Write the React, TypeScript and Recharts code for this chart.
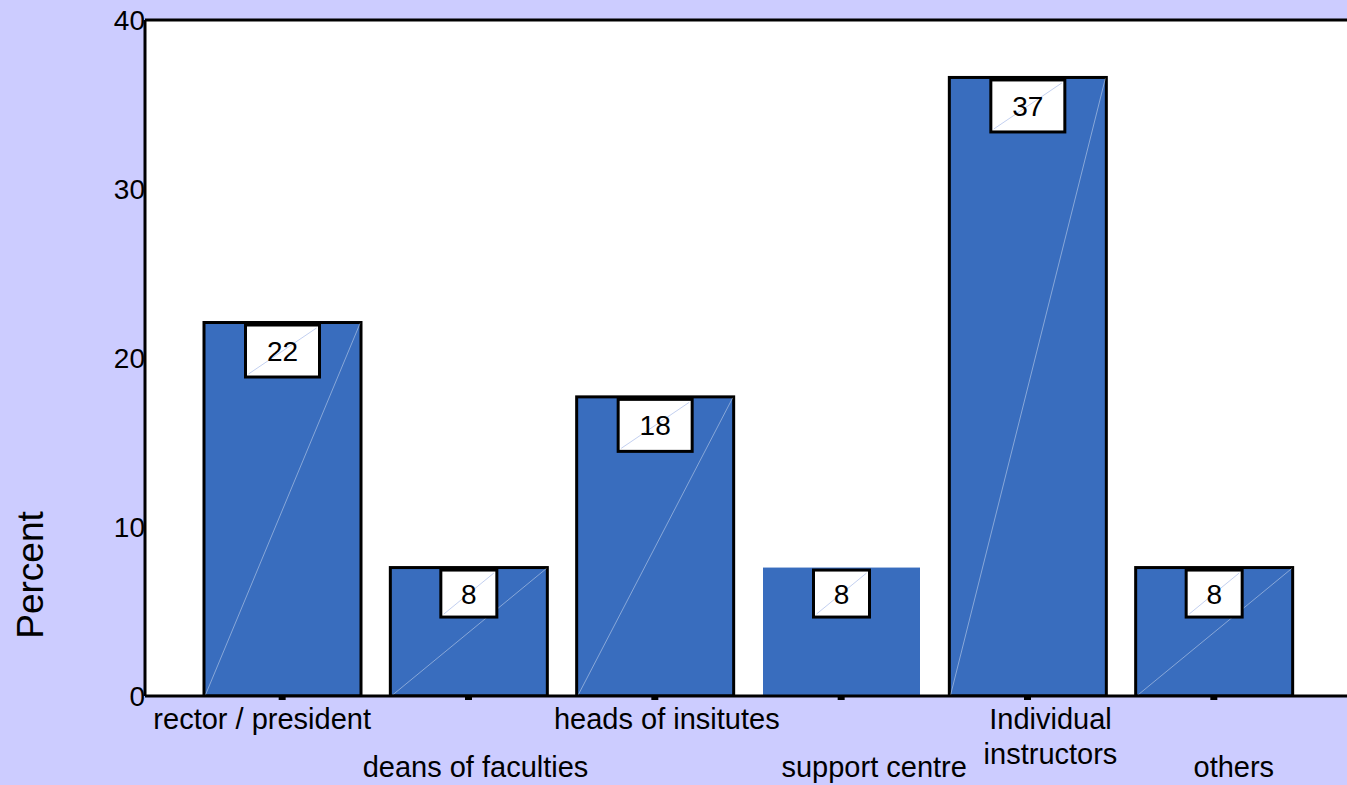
import { Bar, BarChart, CartesianGrid, LabelList, ReferenceLine, XAxis, YAxis } from 'recharts'

const categories = [
  'rector / president',
  'deans of faculties',
  'heads of insitutes',
  'support centre',
  'Individual\ninstructors',
  'others',
]
const percents = [22.1, 7.6, 17.7, 7.6, 36.6, 7.6]
const valueLabels = ['22', '8', '18', '8', '37', '8']
const yTicks = [0, 10, 20, 30, 40]

const data = categories.map((name, i) => ({ name, percent: percents[i], label: valueLabels[i] }))

const BAR_BLUE = '#396dbe'
const PAGE_BG = '#ccccff'
const FONT = 'Arial, "Liberation Sans", sans-serif'
// the "support centre" bar is drawn without an outline in the original
const UNFRAMED = 3
// category labels are not quite centred under their bars in the original
const TICK_NUDGE = [-20, 7, 12, 33, 23, 20]

function BarShape(props: any) {
  const { x, y, width, height, index } = props
  const framed = index !== UNFRAMED
  return (
    <g>
      <rect
        x={x}
        y={y}
        width={width}
        height={height}
        fill={BAR_BLUE}
        stroke={framed ? '#000' : 'none'}
        strokeWidth={3}
      />
      {framed && (
        <line x1={x + 1} y1={y + height} x2={x + width - 1} y2={y + 1} stroke="rgba(255,255,255,0.4)" strokeWidth={1} />
      )}
    </g>
  )
}

function ValueBox(props: any) {
  const { x, y, width, value } = props
  const text = String(value)
  const w = text.length > 1 ? 74 : 56
  const h = text.length > 1 ? 52 : 47
  const cx = x + width / 2
  const top = y + 2.5
  return (
    <g>
      <rect x={cx - w / 2} y={top} width={w} height={h} fill="#fff" stroke="#000" strokeWidth={3} />
      <line x1={cx - w / 2 + 3} y1={top + h - 3} x2={cx + w / 2 - 3} y2={top + 3} stroke="#c3d0f0" strokeWidth={1} />
      <text x={cx} y={top + h / 2} dy="0.36em" textAnchor="middle" fontSize={28} fill="#000" fontFamily={FONT}>
        {text}
      </text>
    </g>
  )
}

function YTick(props: any) {
  const { x, y, payload } = props
  return (
    <text x={x} y={y} dy="0.36em" textAnchor="end" fontSize={28} fill="#000" fontFamily={FONT}>
      {payload.value}
    </text>
  )
}

function XTick(props: any) {
  const { x, y, payload, index } = props
  const lines = String(payload.value).split('\n')
  const base = index % 2 === 0 ? 29 : 77
  const cx = x + (TICK_NUDGE[index] ?? 0)
  return (
    <g>
      {lines.map((line, i) => (
        <text
          key={line}
          x={cx}
          y={y + base + i * 35}
          textAnchor="middle"
          fontSize={29}
          fill="#000"
          fontFamily={FONT}
        >
          {line}
        </text>
      ))}
    </g>
  )
}

function PercentLabel() {
  return (
    <text
      x={30}
      y={575}
      transform="rotate(-90 30 575)"
      dy="0.36em"
      textAnchor="middle"
      fontSize={37}
      fill="#000"
      fontFamily={FONT}
    >
      Percent
    </text>
  )
}

export default function App() {
  return (
    <div
      style={{
        position: 'absolute',
        left: 0,
        top: 0,
        width: 1347,
        height: 785,
        overflow: 'hidden',
        background: PAGE_BG,
      }}
    >
      <BarChart
        width={1380}
        height={785}
        data={data}
        margin={{ top: 20, right: 10, bottom: 9, left: 85 }}
        barSize={157}
      >
        <CartesianGrid fill="#fff" horizontal={false} vertical={false} />
        <XAxis
          dataKey="name"
          interval={0}
          height={80}
          padding={{ left: 44, right: 63 }}
          axisLine={{ stroke: '#000', strokeWidth: 3 }}
          tickLine={{ stroke: '#000', strokeWidth: 7 }}
          tickSize={4}
          tickMargin={0}
          tick={<XTick />}
        />
        <YAxis
          width={60}
          domain={[0, 40]}
          ticks={yTicks}
          allowDataOverflow
          axisLine={{ stroke: '#000', strokeWidth: 3 }}
          tickLine={false}
          tickSize={0}
          tickMargin={0}
          tick={<YTick />}
          label={<PercentLabel />}
        />
        <ReferenceLine y={40} stroke="#000" strokeWidth={3} />
        <Bar dataKey="percent" isAnimationActive={false} shape={<BarShape />}>
          <LabelList dataKey="label" content={<ValueBox />} />
        </Bar>
      </BarChart>
    </div>
  )
}
